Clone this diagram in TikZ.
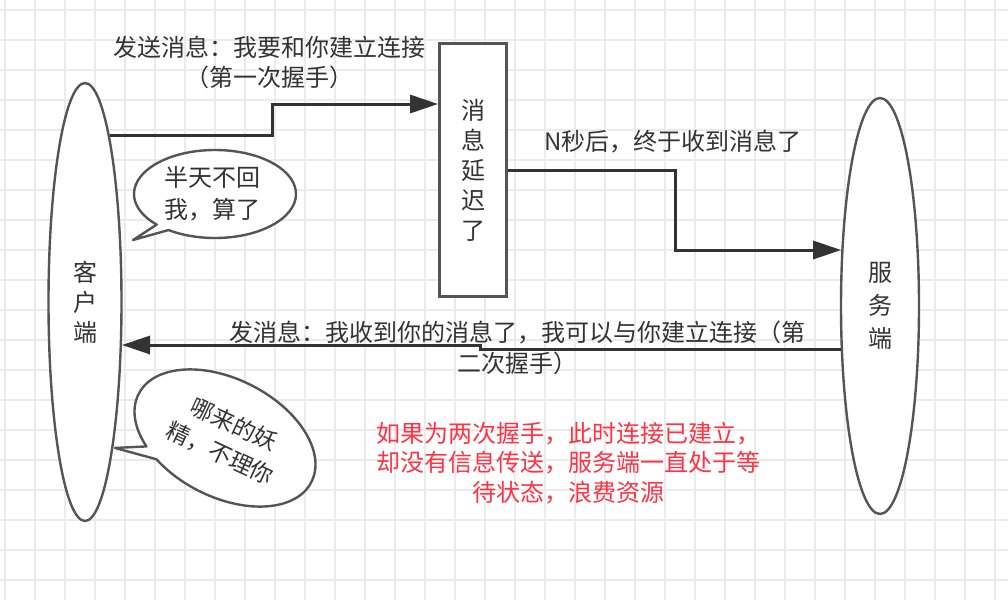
\documentclass[tikz,border=0pt]{standalone}
\usepackage{fontspec}
\setmainfont{Noto Sans CJK SC}
\usetikzlibrary{arrows.meta,calc,shapes.geometric}
\definecolor{ink}{HTML}{333333}
\definecolor{edgec}{HTML}{555555}
\definecolor{gridc}{HTML}{EBEBEB}
\definecolor{warn}{HTML}{FF3344}
\tikzset{
  gridline/.style={draw=gridc, line width=1.3pt},
  party/.style={ellipse, draw=edgec, line width=2.4pt, fill=white, inner sep=0pt,
    text=ink, align=center},
  delaybox/.style={rectangle, draw=edgec, line width=2.8pt, fill=white, inner sep=0pt,
    text=ink, align=center},
  flow/.style={draw=ink, line width=3pt, line join=miter,
    -{Triangle[length=28pt,width=18pt]}},
  lbl/.style={text=ink, align=center, inner sep=0pt},
  bubble/.style={draw=edgec, line width=2.4pt, fill=white, line join=round},
  warntext/.style={text=warn, align=center, inner sep=0pt}
}
\begin{document}
\begin{tikzpicture}[x=1pt,y=-1pt]
\useasboundingbox (0,0) rectangle (1008,600);
\fill[white] (0,0) rectangle (1008,600);
\foreach \gx in {5,35,...,1007} \draw[gridline] (\gx,0) -- (\gx,600);
\foreach \gy in {10,40,...,600} \draw[gridline] (0,\gy) -- (1008,\gy);

% parties
\node[party, minimum width=73pt, minimum height=438pt,
  font=\fontsize{24}{30}\selectfont] (client) at (85,302) {客\\户\\端};
\node[party, minimum width=78pt, minimum height=416pt,
  font=\fontsize{24}{33}\selectfont] (server) at (880,306) {服\\务\\端};
\node[delaybox, minimum width=67pt, minimum height=253pt,
  font=\fontsize{24}{30}\selectfont] (delay) at (473,170) {消\\息\\延\\迟\\了};

% connectors
\draw[flow] ($(client.center)+(24.8,-167)$) -| (272,104) -- (delay.west |- 0,104);
\draw[flow] (delay.east |- 0,170) -| (675,250) -- ($(server.center)+(-38.8,-56)$);
\draw[flow] ($(server.center)+(-39.4,43)$) -| (480,345) -- ($(client.center)+(37,43)$);

% labels
\node[lbl, font=\fontsize{24}{30}\selectfont] (l1) at (269,62)
  {发送消息：我要和你建立连接\\（第一次握手）};
\node[lbl, font=\fontsize{24}{30}\selectfont] (l2) at (673,142)
  {N秒后，终于收到消息了};
\node[lbl, font=\fontsize{24}{31}\selectfont] (l3) at (517,348)
  {发消息：我收到你的消息了，我可以与你建立连接（第\\二次握手）};

% callout 1
\coordinate (c1) at (215,194);
\draw[bubble] ($(c1)+(136:81 and 44)$) arc[start angle=136, end angle=485,
  x radius=81, y radius=44] -- (133,240) -- cycle;
\node[lbl, font=\fontsize{24}{32}\selectfont] (b1) at (212,194) {半天不回\\我，算了};

% callout 2
\begin{scope}[shift={(225,438)}, rotate=-27]
  \draw[bubble] (133:97 and 59) arc[start angle=133, end angle=482,
    x radius=97, y radius=59] -- (-93.5,58.8) -- cycle;
\end{scope}
\node[lbl, rotate=-25, font=\fontsize{23}{32}\selectfont] (b2) at (227,439)
  {哪来的妖\\精，不理你};

% note
\node[warntext, font=\fontsize{24}{29.5}\selectfont] (note) at (568,463)
  {如果为两次握手，此时连接已建立，\\却没有信息传送，服务端一直处于等\\待状态，浪费资源};
\end{tikzpicture}
\end{document}
